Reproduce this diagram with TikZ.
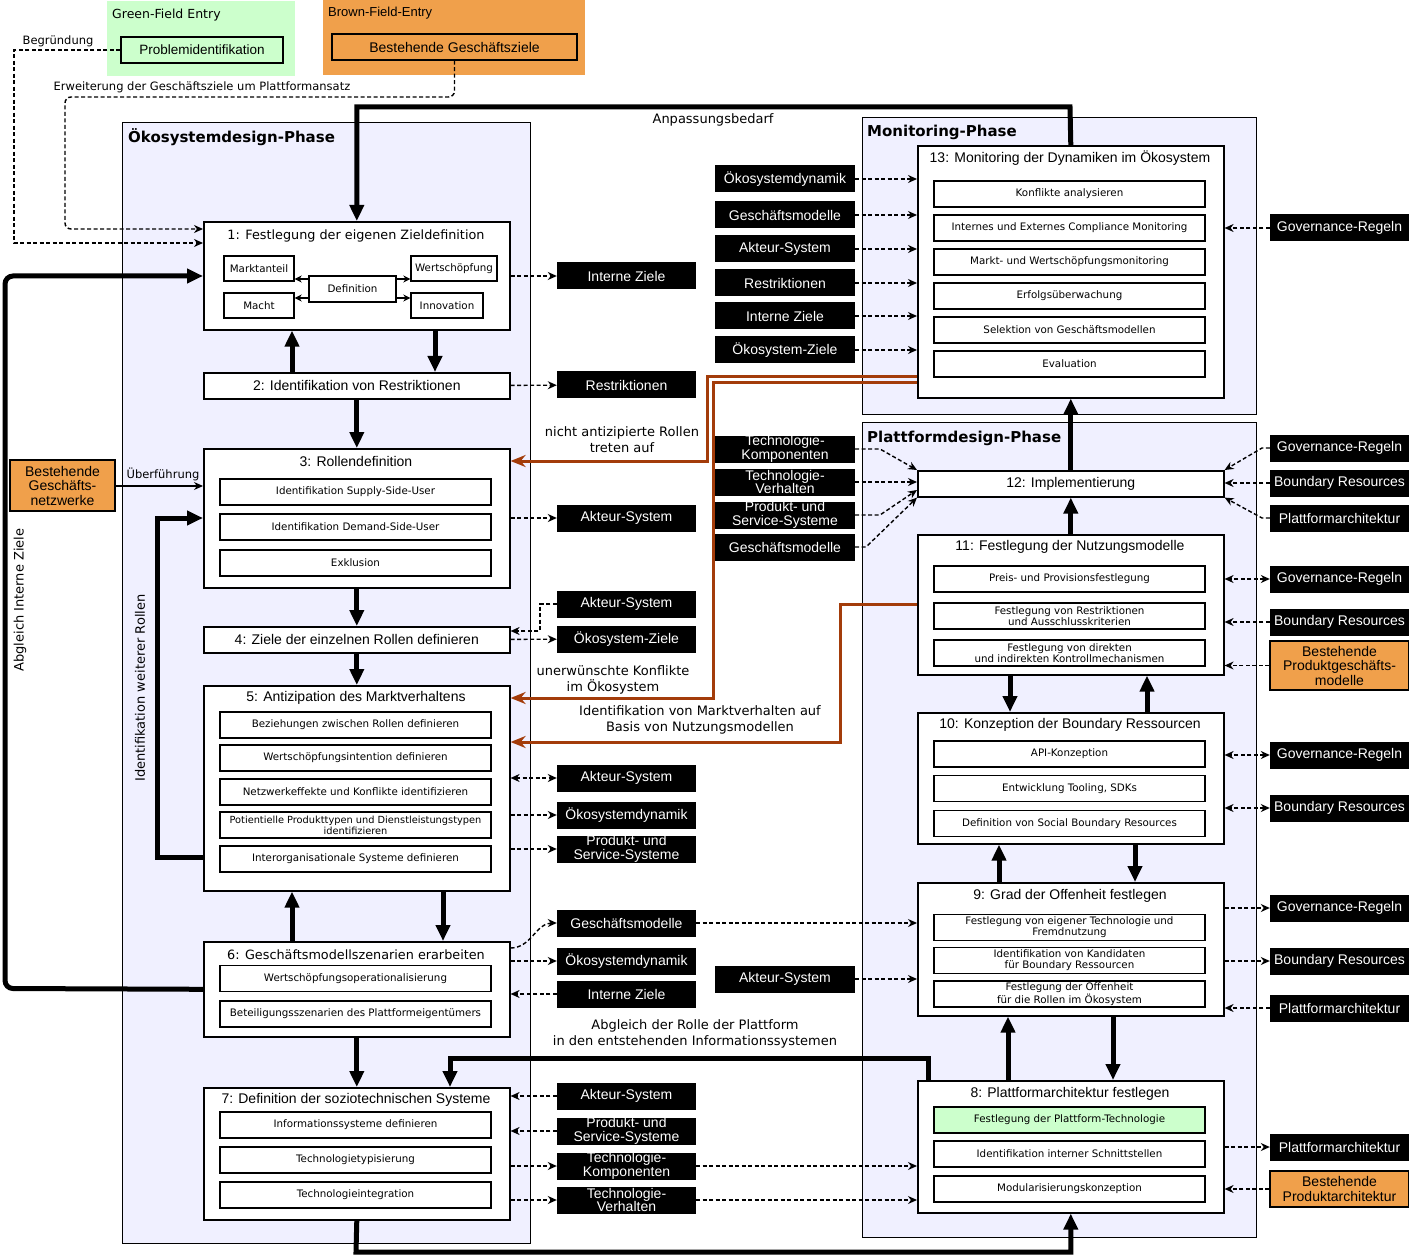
\documentclass[tikz,border=0pt]{standalone}
\usepackage{fontspec}
\setmainfont{Liberation Sans}
\newfontfamily\lucida{DejaVu Sans}
\usetikzlibrary{arrows.meta,positioning}
\definecolor{phasebg}{HTML}{F0F0FF}
\definecolor{greenentry}{HTML}{CCFFCC}
\definecolor{brownentry}{HTML}{F0A04B}
\definecolor{rust}{HTML}{A33C0A}

\begin{document}
\begin{tikzpicture}[x=1pt, y=-1pt,
	phase/.style={draw, fill=phasebg, line width=1.4pt, anchor=north west, inner sep=0pt},
	stage/.style={draw, fill=white, line width=1.6pt, anchor=north west, inner sep=0pt, minimum width=306pt, font=\fontsize{14}{14}\selectfont},
	heading/.style={inner sep=0pt, font=\fontsize{14}{14}\selectfont},
	item/.style={draw, fill=white, line width=1.4pt, minimum width=271pt, minimum height=26pt, inner sep=0pt, align=center, font=\lucida\fontsize{10.3}{11.3}\selectfont},
	goal/.style={item, minimum width=70pt, minimum height=25pt},
	tag/.style={fill=black, text=white, minimum width=139pt, minimum height=27pt, inner sep=0pt, align=center, font=\fontsize{14}{13.5}\selectfont},
	legacy/.style={draw, line width=1.3pt, fill=brownentry, inner sep=0pt, align=center, font=\fontsize{14}{14.5}\selectfont},
	phasename/.style={anchor=west, inner sep=0pt, font=\lucida\bfseries\fontsize{15}{16}\selectfont},
	remark/.style={inner sep=0pt, align=center, font=\lucida\fontsize{13}{16}\selectfont},
	flow/.style={line width=5pt, -{Triangle[length=16pt,width=14pt]}},
	dep/.style={line width=1.4pt, dash pattern=on 4pt off 2.5pt, -{Stealth[length=9pt,width=8pt]}},
	mutual/.style={dep, {Stealth[length=9pt,width=8pt]}-{Stealth[length=9pt,width=8pt]}},
	pointer/.style={line width=1.1pt, -{Stealth[length=7pt,width=7pt]}},
	feedback/.style={draw=rust, line width=3pt, -{Stealth[length=15pt,width=12pt]}}]
	\fill[white] (0,0) rectangle (1409,1257);
	\useasboundingbox (0,0) rectangle (1409,1257);

	\node[fill=greenentry, anchor=north west, minimum width=188pt, minimum height=75pt, inner sep=0pt] (green) at (107,1) {};
	\node[anchor=west, inner sep=0pt, font=\lucida\fontsize{12.5}{14}\selectfont] (greenname) at (112,15) {Green-Field Entry};
	\node[draw, line width=1.4pt, fill=greenentry, minimum width=162pt, minimum height=26pt, inner sep=0pt, font=\fontsize{13.5}{14}\selectfont] (problem) at (202,50) {Problemidentifikation};
	\node[fill=brownentry, anchor=north west, minimum width=262pt, minimum height=75pt, inner sep=0pt] (brown) at (323,0) {};
	\node[anchor=west, inner sep=0pt, font=\fontsize{13}{14}\selectfont] (brownname) at (328,13) {Brown-Field-Entry};
	\node[legacy, minimum width=245pt, minimum height=26pt] (bizgoals) at (454.5,47) {Bestehende Geschäftsziele};

	\node[phase, minimum width=408pt, minimum height=1121pt] (eco) at (122,122) {};
	\node[phase, minimum width=394pt, minimum height=297pt] (mon) at (862,117) {};
	\node[phase, minimum width=394pt, minimum height=815pt] (plat) at (862,422) {};
	\node[phasename] (econame) at (128,137) {Ökosystemdesign-Phase};
	\node[phasename] (monname) at (867,132) {Monitoring-Phase};
	\node[phasename] (platname) at (867,438) {Plattformdesign-Phase};

	\node[legacy, minimum width=105pt, minimum height=51pt] (networks) at (62.5,485.5) {Bestehende\\Geschäfts-\\netzwerke};

	\node[stage, minimum height=108pt] (s1) at (203,221) {};
	\node[heading, font=\lucida\fontsize{12.8}{14}\selectfont] (s1h) at (356,236) {1: Festlegung der eigenen Zieldefinition};
	\node[goal] (share) at (259,268.5) {Marktanteil};
	\node[goal, minimum width=86pt] (value) at (454,268.5) {Wertschöpfung};
	\node[goal] (power) at (259,305.5) {Macht};
	\node[goal, minimum width=72pt] (innov) at (447,305.5) {Innovation};
	\node[goal, minimum width=87pt, minimum height=26pt] (defn) at (352.5,289) {Definition};
	\node[stage, minimum height=26pt] (s2) at (203,372) {2: Identifikation von Restriktionen};
	\node[stage, minimum height=139pt] (s3) at (203,448) {};
	\node[heading] (s3h) at (356,461) {3: Rollendefinition};
	\node[item] (s3a) at (355.5,492) {Identifikation Supply-Side-User};
	\node[item] (s3b) at (355.5,527) {Identifikation Demand-Side-User};
	\node[item] (s3c) at (355.5,563) {Exklusion};
	\node[stage, minimum height=26pt] (s4) at (203,626) {4: Ziele der einzelnen Rollen definieren};
	\node[stage, minimum height=205pt] (s5) at (203,685) {};
	\node[heading] (s5h) at (356,698) {5: Antizipation des Marktverhaltens};
	\node[item] (s5a) at (355.5,725) {Beziehungen zwischen Rollen definieren};
	\node[item] (s5b) at (355.5,758) {Wertschöpfungsintention definieren};
	\node[item] (s5c) at (355.5,792) {Netzwerkeffekte und Konflikte identifizieren};
	\node[item, font=\lucida\fontsize{9.8}{11}\selectfont] (s5d) at (355.5,825) {Potientielle Produkttypen und Dienstleistungstypen\\identifizieren};
	\node[item] (s5e) at (355.5,859) {Interorganisationale Systeme definieren};
	\node[stage, minimum height=95pt] (s6) at (203,941) {};
	\node[heading, font=\lucida\fontsize{12.8}{14}\selectfont] (s6h) at (356,955) {6: Geschäftsmodellszenarien erarbeiten};
	\node[item] (s6a) at (355.5,978.5) {Wertschöpfungsoperationalisierung};
	\node[item] (s6b) at (355.5,1014) {Beteiligungsszenarien des Plattformeigentümers};
	\node[stage, minimum height=132pt] (s7) at (203,1087) {};
	\node[heading] (s7h) at (356,1100) {7: Definition der soziotechnischen Systeme};
	\node[item] (s7a) at (355.5,1125) {Informationssysteme definieren};
	\node[item] (s7b) at (355.5,1160) {Technologietypisierung};
	\node[item] (s7c) at (355.5,1195) {Technologieintegration};

	\node[stage, minimum height=252pt] (s13) at (917,145) {};
	\node[heading] (s13h) at (1070,158) {13: Monitoring der Dynamiken im Ökosystem};
	\node[item] (s13a) at (1069.5,194) {Konflikte analysieren};
	\node[item] (s13b) at (1069.5,228) {Internes und Externes Compliance Monitoring};
	\node[item] (s13c) at (1069.5,262) {Markt- und Wertschöpfungsmonitoring};
	\node[item] (s13d) at (1069.5,296) {Erfolgsüberwachung};
	\node[item] (s13e) at (1069.5,330) {Selektion von Geschäftsmodellen};
	\node[item] (s13f) at (1069.5,364) {Evaluation};
	\node[stage, minimum height=26pt] (s12) at (917,470) {12: Implementierung};
	\node[stage, minimum height=140pt] (s11) at (917,534) {};
	\node[heading] (s11h) at (1070,547) {11: Festlegung der Nutzungsmodelle};
	\node[item] (s11a) at (1069.5,579) {Preis- und Provisionsfestlegung};
	\node[item] (s11b) at (1069.5,616) {Festlegung von Restriktionen\\und Ausschlusskriterien};
	\node[item] (s11c) at (1069.5,653) {Festlegung von direkten\\und indirekten Kontrollmechanismen};
	\node[stage, minimum height=131pt] (s10) at (917,712) {};
	\node[heading] (s10h) at (1070,725) {10: Konzeption der Boundary Ressourcen};
	\node[item] (s10a) at (1069.5,754) {API-Konzeption};
	\node[item] (s10b) at (1069.5,788.5) {Entwicklung Tooling, SDKs};
	\node[item] (s10c) at (1069.5,823.5) {Definition von Social Boundary Resources};
	\node[stage, minimum height=133pt] (s9) at (917,882) {};
	\node[heading] (s9h) at (1070,896) {9: Grad der Offenheit festlegen};
	\node[item] (s9a) at (1069.5,927.5) {Festlegung von eigener Technologie und\\Fremdnutzung};
	\node[item] (s9b) at (1069.5,960.5) {Identifikation von Kandidaten\\für Boundary Ressourcen};
	\node[item] (s9c) at (1069.5,994) {Festlegung der Offenheit\\für die Rollen im Ökosystem};
	\node[stage, minimum height=132pt] (s8) at (917,1080) {};
	\node[heading] (s8h) at (1070,1094) {8: Plattformarchitektur festlegen};
	\node[item, fill=greenentry] (s8a) at (1069.5,1120) {Festlegung der Plattform-Technologie};
	\node[item] (s8b) at (1069.5,1154) {Identifikation interner Schnittstellen};
	\node[item] (s8c) at (1069.5,1189) {Modularisierungskonzeption};

	\node[tag] (a1) at (626.5,276) {Interne Ziele};
	\node[tag] (a2) at (626.5,385) {Restriktionen};
	\node[tag] (a3) at (626.5,518) {Akteur-System};
	\node[tag] (a4) at (626.5,604) {Akteur-System};
	\node[tag] (a5) at (626.5,639) {Ökosystem-Ziele};
	\node[tag] (a6) at (626.5,778) {Akteur-System};
	\node[tag] (a7) at (626.5,815) {Ökosystemdynamik};
	\node[tag] (a8) at (626.5,849) {Produkt- und\\Service-Systeme};
	\node[tag] (a9) at (626.5,923) {Geschäftsmodelle};
	\node[tag] (a10) at (626.5,961) {Ökosystemdynamik};
	\node[tag] (a11) at (626.5,994) {Interne Ziele};
	\node[tag] (a12) at (626.5,1096) {Akteur-System};
	\node[tag] (a13) at (626.5,1131) {Produkt- und\\Service-Systeme};
	\node[tag] (a14) at (626.5,1166) {Technologie-\\Komponenten};
	\node[tag] (a15) at (626.5,1200) {Technologie-\\Verhalten};

	\node[tag, minimum width=140pt] (b1) at (785,179) {Ökosystemdynamik};
	\node[tag, minimum width=140pt] (b2) at (785,215) {Geschäftsmodelle};
	\node[tag, minimum width=140pt] (b3) at (785,249) {Akteur-System};
	\node[tag, minimum width=140pt] (b4) at (785,283) {Restriktionen};
	\node[tag, minimum width=140pt] (b5) at (785,316) {Interne Ziele};
	\node[tag, minimum width=140pt] (b6) at (785,350) {Ökosystem-Ziele};
	\node[tag, minimum width=140pt] (b7) at (785,449) {Technologie-\\Komponenten};
	\node[tag, minimum width=140pt] (b8) at (785,482) {Technologie-\\Verhalten};
	\node[tag, minimum width=140pt] (b9) at (785,515) {Produkt- und\\Service-Systeme};
	\node[tag, minimum width=140pt] (b10) at (785,547) {Geschäftsmodelle};
	\node[tag, minimum width=140pt] (b11) at (785,979) {Akteur-System};

	\node[tag] (c1) at (1339.5,228) {Governance-Regeln};
	\node[tag] (c2) at (1339.5,448) {Governance-Regeln};
	\node[tag] (c3) at (1339.5,483) {Boundary Resources};
	\node[tag] (c4) at (1339.5,518) {Plattformarchitektur};
	\node[tag] (c5) at (1339.5,579) {Governance-Regeln};
	\node[tag] (c6) at (1339.5,622) {Boundary Resources};
	\node[legacy, minimum width=139pt, minimum height=49pt] (c7) at (1339.5,665.5) {Bestehende\\Produktgeschäfts-\\modelle};
	\node[tag] (c8) at (1339.5,755) {Governance-Regeln};
	\node[tag] (c9) at (1339.5,808) {Boundary Resources};
	\node[tag] (c10) at (1339.5,908) {Governance-Regeln};
	\node[tag] (c11) at (1339.5,961) {Boundary Resources};
	\node[tag] (c12) at (1339.5,1008) {Plattformarchitektur};
	\node[tag] (c13) at (1339.5,1147) {Plattformarchitektur};
	\node[legacy, minimum width=139pt, minimum height=36pt] (c14) at (1339.5,1189) {Bestehende\\Produktarchitektur};

	\node[remark, font=\lucida\fontsize{11.5}{14}\selectfont] (why) at (58,41) {Begründung};
	\node[remark, font=\lucida\fontsize{11.5}{14}\selectfont] (extend) at (202,87) {Erweiterung der Geschäftsziele um Plattformansatz};
	\node[remark] (adapt) at (713,120) {Anpassungsbedarf};
	\node[remark, font=\lucida\fontsize{11.5}{14}\selectfont] (transfer) at (163,474) {Überführung};
	\node[remark, rotate=90] (alignleft) at (20,600) {Abgleich Interne Ziele};
	\node[remark, rotate=90] (morerole) at (140,688) {Identifikation weiterer Rollen};
	\node[remark] (unforeseen) at (622,440) {nicht antizipierte Rollen\\treten auf};
	\node[remark] (conflict) at (613,680) {unerwünschte Konflikte\\im Ökosystem};
	\node[remark] (market) at (700,720) {Identifikation von Marktverhalten auf\\Basis von Nutzungsmodellen};
	\node[remark] (platrole) at (695,1034) {Abgleich der Rolle der Plattform\\in den entstehenden Informationssystemen};

	\draw[pointer] (defn.west |- 0,279) -- (share.east |- 0,279);
	\draw[pointer] (defn.east |- 0,279) -- (value.west |- 0,279);
	\draw[pointer] (defn.west |- 0,298) -- (power.east |- 0,298);
	\draw[pointer] (defn.east |- 0,298) -- (innov.west |- 0,298);

	\draw[flow] (s13.north) -- (1070,107) -| (s1.north);
	\draw[flow, rounded corners=8pt] (s6.west) -- (5,988.5) |- (s1.west |- 0,276);
	\draw[flow] (s2.north -| 292,0) -- (s1.south -| 292,0);
	\draw[flow] (s1.south -| 435,0) -- (s2.north -| 435,0);
	\draw[flow] (s2) -- (s3);
	\draw[flow] (s3) -- (s4);
	\draw[flow] (s4) -- (s5);
	\draw[flow] (s5.west |- 0,857) -- (157,857) |- (s3.west |- 0,518);
	\draw[flow] (s6.north -| 292,0) -- (s5.south -| 292,0);
	\draw[flow] (s5.south -| 443,0) -- (s6.north -| 443,0);
	\draw[flow] (s6) -- (s7);
	\draw[flow] (s7.south) -- (356,1252) -| (s8.south);
	\draw[flow] (s8.north -| 928,0) -- (928,1058) -| (s7.north -| 450,0);
	\draw[flow] (s12) -- (s13);
	\draw[flow] (s11) -- (s12);
	\draw[flow] (s11.south -| 1010,0) -- (s10.north -| 1010,0);
	\draw[flow] (s10.north -| 1147,0) -- (s11.south -| 1147,0);
	\draw[flow] (s9.north -| 999,0) -- (s10.south -| 999,0);
	\draw[flow] (s10.south -| 1135,0) -- (s9.north -| 1135,0);
	\draw[flow] (s8.north -| 1008,0) -- (s9.south -| 1008,0);
	\draw[flow] (s9.south -| 1113,0) -- (s8.north -| 1113,0);

	\draw[feedback] (s13.west |- 0,377) -- (707,377) |- (s3.east |- 0,461);
	\draw[feedback] (s13.west |- 0,383) -- (713,383) |- (s5.east |- 0,698);
	\draw[feedback] (s11.west |- 0,604) -- (840,604) |- (s5.east |- 0,742);

	\draw[dep] (problem.west) -- (14,50) -- (14,243) -- (s1.west |- 0,243);
	\draw[dep, rounded corners=6pt] (bizgoals.south) -- (454.5,97) -- (65,97) -- (65,229) -- (s1.west |- 0,229);
	\draw[line width=1.2pt, -{Stealth[length=9pt,width=8pt]}] (networks.east |- 0,486) -- (s3.west |- 0,486);

	\draw[dep] (s1.east |- a1) -- (a1);
	\draw[dep] (s2) -- (a2);
	\draw[dep] (s3.east |- a3) -- (a3);
	\draw[dep] (a4.west) -- (540,604) -- (540,631) -- (s4.east |- 0,631);
	\draw[dep] (s4) -- (a5);
	\draw[mutual] (s5.east |- a6) -- (a6);
	\draw[dep] (s5.east |- a7) -- (a7);
	\draw[dep] (s5.east |- a8) -- (a8);
	\draw[dep] (s6.east |- 0,948) to[out=0, in=180] (a9.west);
	\draw[dep] (s6.east |- a10) -- (a10);
	\draw[dep] (a11) -- (a11 -| s6.east);
	\draw[dep] (a12) -- (a12 -| s7.east);
	\draw[dep] (a13) -- (a13 -| s7.east);
	\draw[dep] (s7.east |- a14) -- (a14);
	\draw[dep] (s7.east |- a15) -- (a15);
	\draw[dep] (a9) -- (a9 -| s9.west);
	\draw[dep] (a14) -- (a14 -| s8.west);
	\draw[dep] (a15) -- (a15 -| s8.west);
	\draw[dep] (b11) -- (b11 -| s9.west);

	\draw[dep] (b1) -- (b1 -| s13.west);
	\draw[dep] (b2) -- (b2 -| s13.west);
	\draw[dep] (b3) -- (b3 -| s13.west);
	\draw[dep] (b4) -- (b4 -| s13.west);
	\draw[dep] (b5) -- (b5 -| s13.west);
	\draw[dep] (b6) -- (b6 -| s13.west);
	\draw[dep] (b7.east) -- (880,449) -- (s12.north west);
	\draw[dep] (b8) -- (b8 -| s12.west);
	\draw[dep] (b9.east) -- (880,515) -- (s12.west |- 0,490);
	\draw[dep] (b10.east) -- (866,547) -- (s12.south west);

	\draw[dep] (c1) -- (c1 -| s13.east);
	\draw[dep] (c2.west) -- (1262,448) -- (s12.north east);
	\draw[dep] (c3) -- (c3 -| s12.east);
	\draw[dep] (c4.west) -- (1262,518) -- (s12.south east);
	\draw[mutual] (c5) -- (c5 -| s11.east);
	\draw[dep] (c6) -- (c6 -| s11.east);
	\draw[dep] (c7) -- (c7 -| s11.east);
	\draw[mutual] (c8) -- (c8 -| s10.east);
	\draw[mutual] (c9) -- (c9 -| s10.east);
	\draw[dep] (s9.east |- c10) -- (c10);
	\draw[dep] (s9.east |- c11) -- (c11);
	\draw[dep] (c12) -- (c12 -| s9.east);
	\draw[dep] (s8.east |- c13) -- (c13);
	\draw[dep] (c14) -- (c14 -| s8.east);
\end{tikzpicture}
\end{document}
